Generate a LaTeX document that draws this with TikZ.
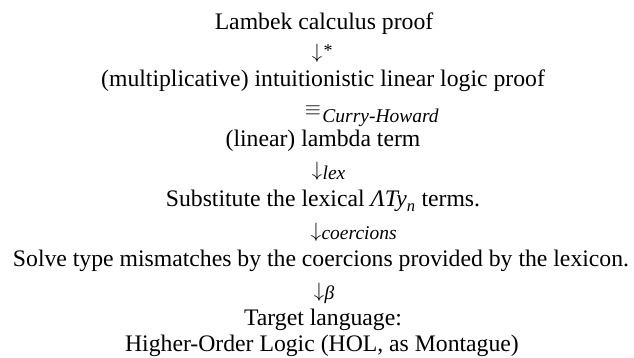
\documentclass[tikz,border=0pt]{standalone}
\usepackage{amsmath}
\usepackage{fontspec}
\setmainfont{Liberation Serif}
\usetikzlibrary{positioning,calc}

\tikzset{
  line/.style={anchor=base,inner sep=0pt,font=\fontsize{23.7}{28}\selectfont},
  arrowsym/.style={anchor=base,inner sep=0pt,font=\fontsize{22}{26}\selectfont},
  arrowlab/.style={anchor=base west,inner sep=0pt,font=\fontsize{19.5}{23}\selectfont\itshape}
}

\begin{document}
\begin{tikzpicture}[x=1pt,y=-1pt]
  \useasboundingbox (0,0) rectangle (634,358);

  % the chain of readings
  \node[line] (lambek) at (324,30) {Lambek calculus proof};
  \node[arrowsym] (a1) at (317,59) {$\downarrow$};
  \node[arrowlab,font=\fontsize{18}{21}\selectfont] (l1) at ([xshift=1pt,yshift=2pt]a1.base east) {*};

  \node[line] (ill) at (323,87) {(multiplicative) intuitionistic linear logic proof};
  \node[arrowsym] (a2) at (313,116) {$\equiv$};
  \node[arrowlab] (l2) at ([xshift=1pt,yshift=-7pt]a2.base east) {Curry-Howard};

  \node[line] (lambda) at (323,147) {(linear) lambda term};
  \node[arrowsym] (a3) at (317,177) {$\downarrow$};
  \node[arrowlab] (l3) at ([yshift=-2pt]a3.base east) {lex};

  \node[line] (subst) at (323,206)
    {Substitute the lexical $\text{\itshape ΛTy}_{\text{\itshape n}}$ terms.};
  \node[arrowsym] (a4) at (316,237) {$\downarrow$};
  \node[arrowlab] (l4) at ([yshift=-2pt]a4.base east) {coercions};

  \node[line] (solve) at (321,266)
    {Solve type mismatches by the coercions provided by the lexicon.};
  \node[arrowsym] (a5) at (319,297) {$\downarrow$};
  \node[arrowlab] (l5) at ([yshift=-2pt]a5.base east) {β};

  \node[line] (target) at (323,325) {Target language:};
  \node[line] (hol) at (322,351) {Higher-Order Logic (HOL, as Montague)};
\end{tikzpicture}
\end{document}
